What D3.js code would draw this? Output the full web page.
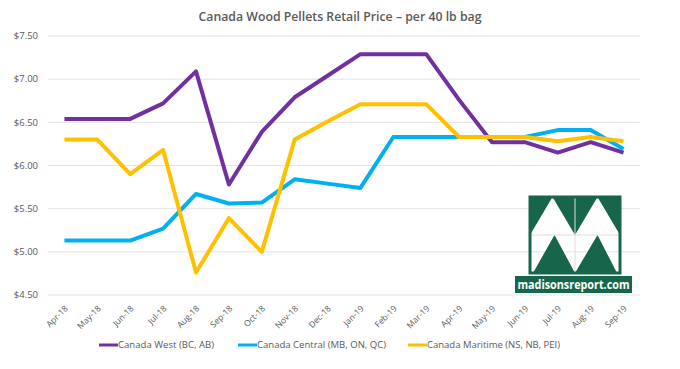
<!DOCTYPE html>
<html>
<head>
<meta charset="utf-8">
<script src="https://cdn.jsdelivr.net/npm/d3@7"></script>
<style>
  body { margin: 0; background: #fff; }
  text { font-family: "Open Sans", "Noto Sans", sans-serif; fill: #595959; }
</style>
</head>
<body>
<div id="chart"></div>
<script>
'use strict';
const months = ['Apr-18','May-18','Jun-18','Jul-18','Aug-18','Sep-18','Oct-18','Nov-18','Dec-18',
  'Jan-19','Feb-19','Mar-19','Apr-19','May-19','Jun-19','Jul-19','Aug-19','Sep-19'];
const west =     [6.54, 6.54, 6.54, 6.72, 7.09, 5.78, 6.39, 6.79, 7.04, 7.29, 7.29, 7.29, 6.76, 6.27, 6.27, 6.15, 6.27, 6.15];
const central =  [5.13, 5.13, 5.13, 5.27, 5.67, 5.56, 5.57, 5.84, 5.79, 5.74, 6.33, 6.33, 6.33, 6.33, 6.33, 6.41, 6.41, 6.19];
const maritime = [6.30, 6.30, 5.90, 6.18, 4.76, 5.39, 5.00, 6.30, 6.51, 6.71, 6.71, 6.71, 6.33, 6.33, 6.33, 6.28, 6.33, 6.28];
const yTicks = [4.5, 5.0, 5.5, 6.0, 6.5, 7.0, 7.5];
const seriesNames = ['Canada West (BC, AB)', 'Canada Central (MB, ON, QC)', 'Canada Maritime (NS, NB, PEI)'];
const seriesColors = ['#7030a0', '#00b0f0', '#ffc000'];
const seriesValues = [west, central, maritime];

const width = 680, height = 369;
const plot = { left: 48, right: 640, top: 36, bottom: 295 };

const svg = d3.select('#chart').append('svg')
  .attr('width', width)
  .attr('height', height);

const x = d3.scalePoint().domain(months).range([plot.left, plot.right]).padding(0.5);
const y = d3.scaleLinear().domain([4.5, 7.5]).range([plot.bottom, plot.top]);

// title
svg.append('text')
  .attr('x', 340)
  .attr('y', 21)
  .attr('text-anchor', 'middle')
  .attr('textLength', 283)
  .attr('lengthAdjust', 'spacingAndGlyphs')
  .style('font-size', '13px')
  .style('font-weight', 600)
  .text('Canada Wood Pellets Retail Price \u2013 per 40 lb bag');

// gridlines + y labels
const grid = svg.append('g');
yTicks.forEach(function(t) {
  grid.append('line')
    .attr('x1', plot.left).attr('x2', plot.right)
    .attr('y1', y(t)).attr('y2', y(t))
    .attr('stroke', '#e3e3e3')
    .attr('stroke-width', 1);
  grid.append('text')
    .attr('x', 38)
    .attr('y', y(t))
    .attr('dy', '0.35em')
    .attr('text-anchor', 'end')
    .style('font-size', '9.5px')
    .text(d3.format('$.2f')(t));
});

// x labels
svg.append('g').selectAll('text')
  .data(months)
  .join('text')
  .attr('transform', d => 'translate(' + (x(d) + 4) + ',' + 309 + ') rotate(-45)')
  .attr('text-anchor', 'end')
  .style('font-size', '8.5px')
  .text(d => d);

// logo (watermark)
const logo = svg.append('g');
const lx = 530, ly = 197, lw = 90, lh = 76, green = '#17664c';
const mid = ly + lh / 2;
logo.append('rect').attr('x', lx).attr('y', ly).attr('width', lw).attr('height', lh / 2).attr('fill', green);
logo.append('path')
  .attr('d', 'M' + lx + ',' + mid + 'L' + (lx + lw / 4) + ',' + ly + 'L' + (lx + lw / 2) + ',' + mid + 'Z' +
    'M' + (lx + lw / 2) + ',' + mid + 'L' + (lx + lw * 3 / 4) + ',' + ly + 'L' + (lx + lw) + ',' + mid + 'Z')
  .attr('fill', '#fff');
logo.append('path')
  .attr('d', 'M' + (lx + 3) + ',' + (ly + lh) + 'L' + (lx + lw / 4 + 2) + ',' + mid + 'L' + (lx + lw / 2) + ',' + (ly + lh) + 'Z' +
    'M' + (lx + lw / 2) + ',' + (ly + lh) + 'L' + (lx + lw * 3 / 4) + ',' + mid + 'L' + (lx + lw - 3) + ',' + (ly + lh) + 'Z')
  .attr('fill', green);
logo.append('line').attr('x1', lx).attr('x2', lx + lw).attr('y1', mid).attr('y2', mid).attr('stroke', '#ddd').attr('stroke-width', 1);
logo.append('line').attr('x1', lx + lw / 2).attr('x2', lx + lw / 2).attr('y1', ly).attr('y2', ly + lh).attr('stroke', '#ddd').attr('stroke-width', 1);
logo.append('rect').attr('x', lx).attr('y', ly).attr('width', lw).attr('height', lh)
  .attr('fill', 'none').attr('stroke', green).attr('stroke-width', 3);
logo.append('rect').attr('x', 515).attr('y', 276).attr('width', 117).attr('height', 17).attr('fill', green);
logo.append('text')
  .attr('x', 573.5).attr('y', 288.5)
  .attr('text-anchor', 'middle')
  .attr('textLength', 112)
  .attr('lengthAdjust', 'spacingAndGlyphs')
  .style('font-size', '12px')
  .style('font-weight', 700)
  .style('fill', '#fff')
  .text('madisonsreport.com');

// lines
const line = d3.line()
  .x((d, i) => x(months[i]))
  .y(d => y(d));

svg.append('g').selectAll('path')
  .data(seriesValues)
  .join('path')
  .attr('d', d => line(d))
  .attr('fill', 'none')
  .attr('stroke', (d, i) => seriesColors[i])
  .attr('stroke-width', 4)
  .attr('stroke-linejoin', 'round');

// legend
const legendPos = [99, 238, 408];
const legendLen = [96, 129, 133];
const legend = svg.append('g').selectAll('g')
  .data(seriesNames)
  .join('g')
  .attr('transform', (d, i) => 'translate(' + legendPos[i] + ',345)');
legend.append('line')
  .attr('x1', 0).attr('x2', 19)
  .attr('stroke', (d, i) => seriesColors[i])
  .attr('stroke-width', 3);
legend.append('text')
  .attr('x', 19)
  .attr('dy', '0.35em')
  .attr('textLength', (d, i) => legendLen[i])
  .attr('lengthAdjust', 'spacingAndGlyphs')
  .style('font-size', '9.5px')
  .text(d => d);
</script>
</body>
</html>
